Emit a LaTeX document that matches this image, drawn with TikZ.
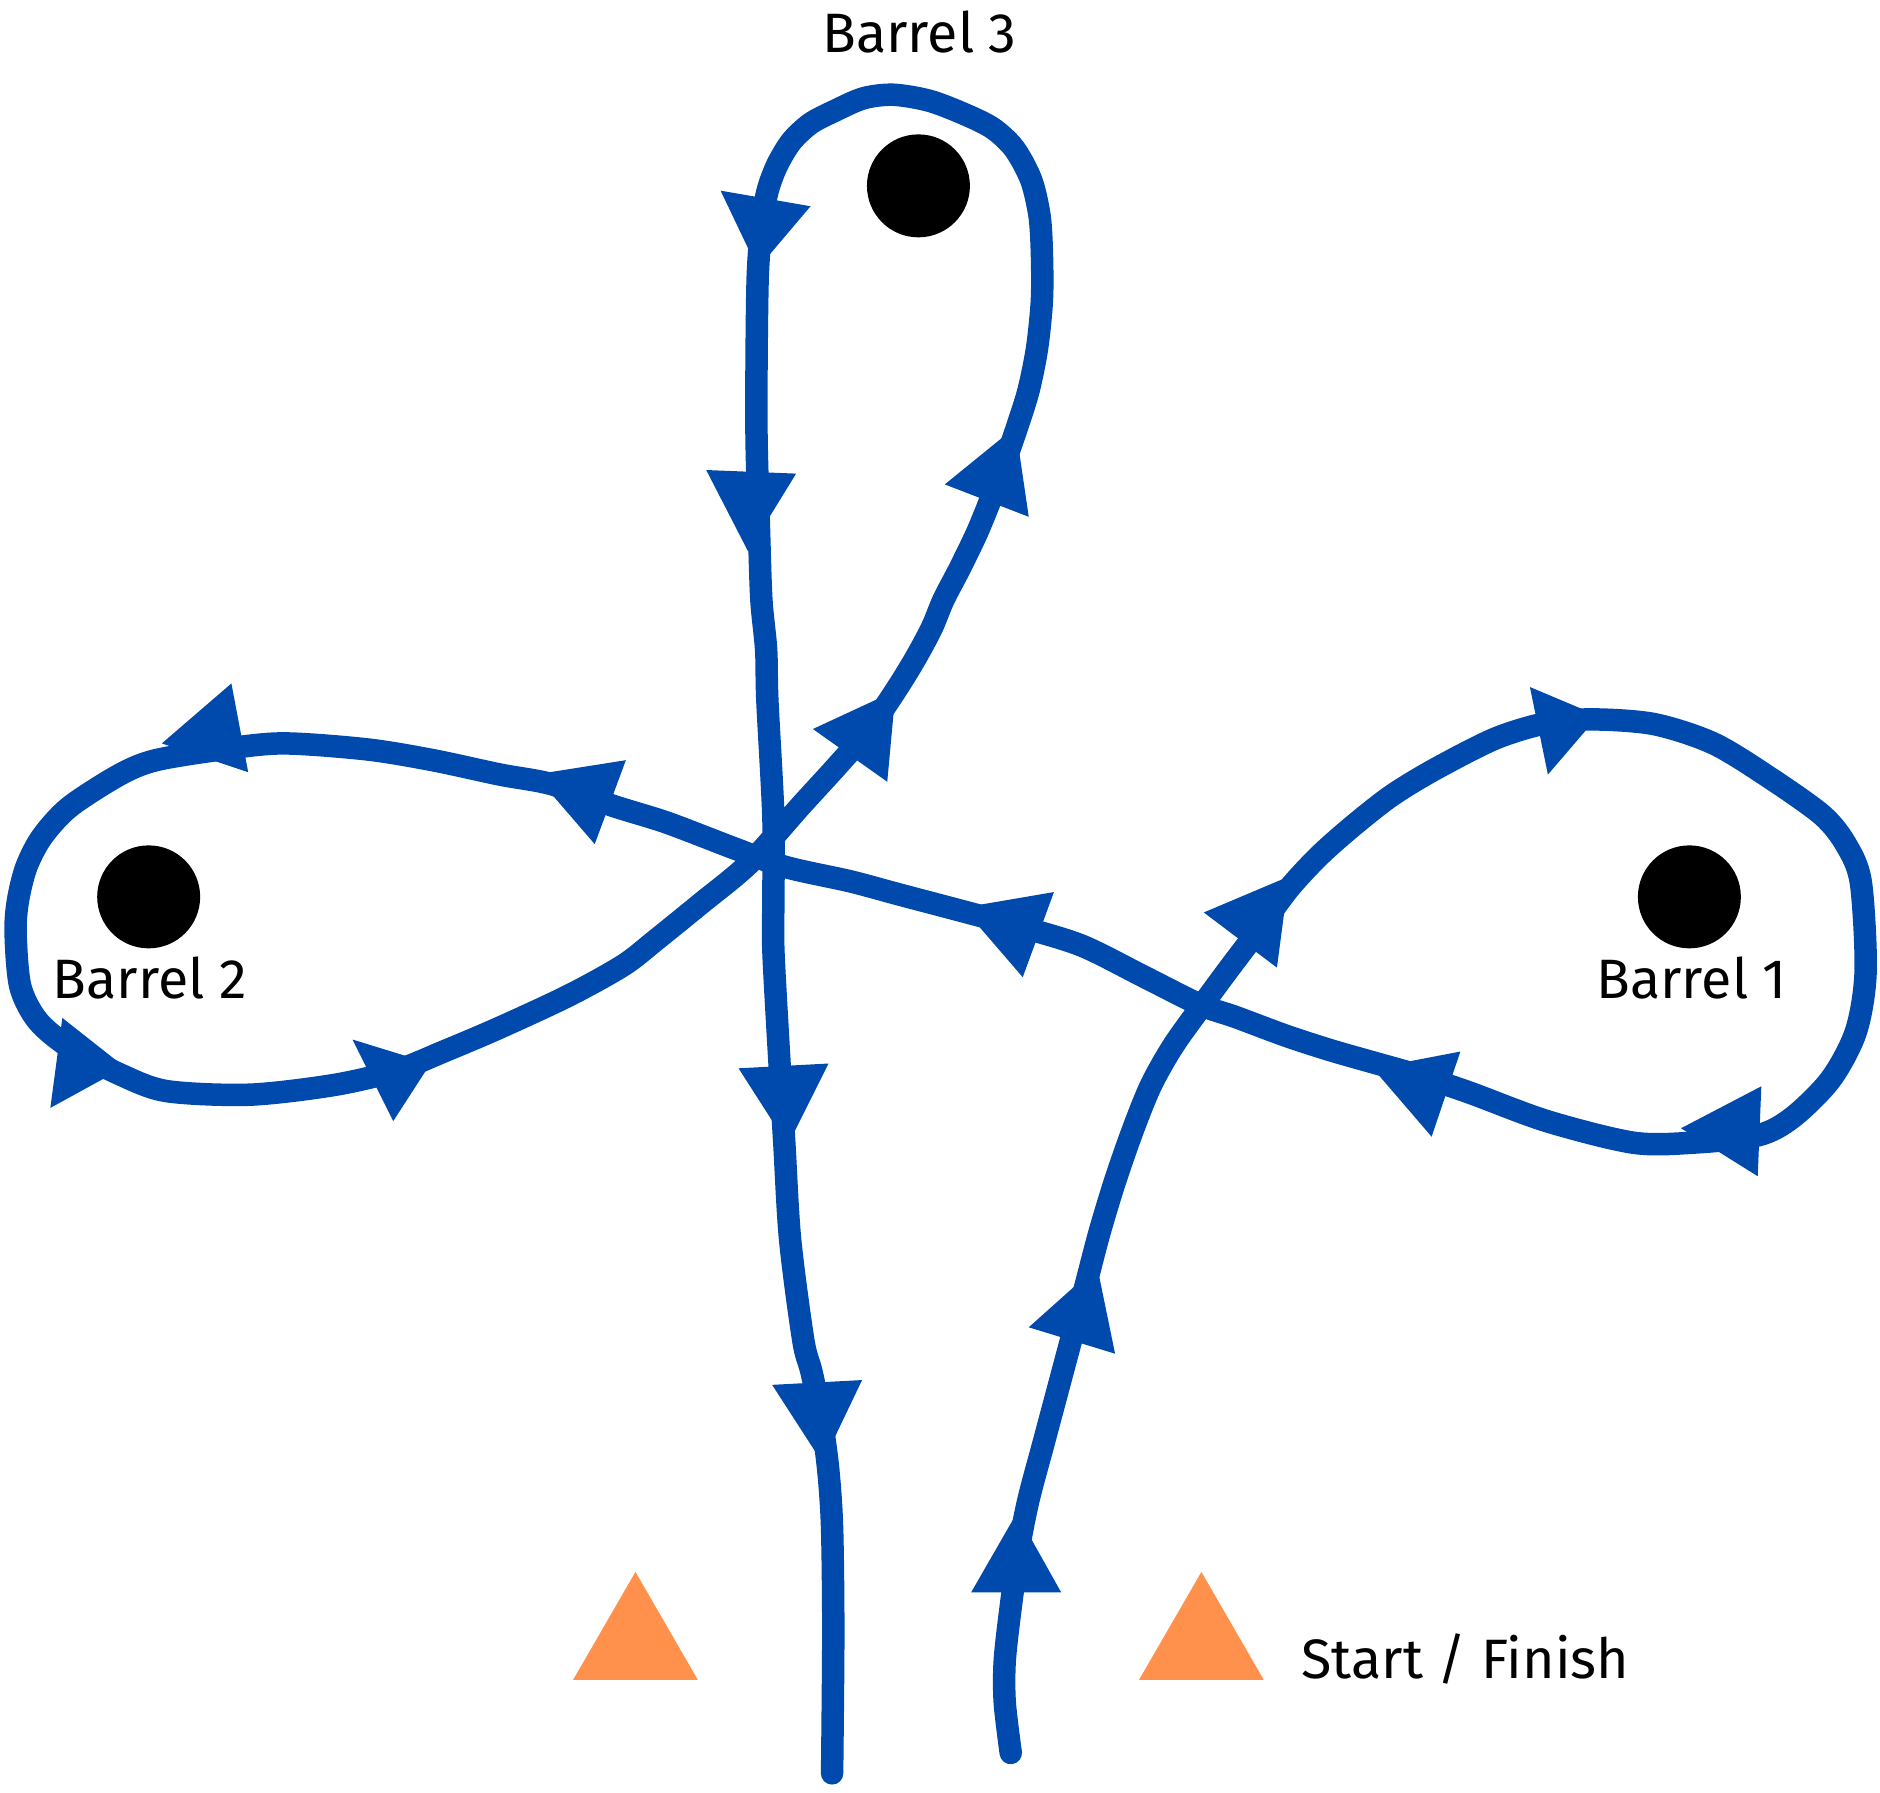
\documentclass[tikz,border=0pt]{standalone}
\usepackage{fontspec}
\setmainfont{Fira Sans}
\definecolor{route}{HTML}{004AAD}
\definecolor{cone}{HTML}{FF914D}
\tikzset{
  track/.style={draw=route, line width=0.225cm, line cap=round, line join=round},
  tip/.style={fill=route},
  barrel/.style={circle, fill=black, minimum size=1.03cm, inner sep=0pt},
  lbl/.style={font=\fontsize{15.8}{19}\selectfont, anchor=base, inner sep=0pt},
  conestyle/.style={fill=cone}
}
\begin{document}
\begin{tikzpicture}[x=0.012cm, y=-0.012cm]
\useasboundingbox (0,0) rectangle (1568,1495);
% route
\draw[track] plot[smooth, tension=0.5] coordinates {
(843,1462) (838,1420) (838,1385) (843,1340) (850,1290) (858,1250) (870,1205) (882,1160) (894,1115) (906,1070) (917,1028) (930,985) (945,942) (960,905) (978,873) (1000,842) (1025,808) (1050,775) (1075,741) (1100,714) (1127,690) (1160,664) (1196,642) (1247,616) (1290,603) (1330,600) (1380,604) (1429,620) (1475,648) (1520,680) (1540,705) (1552,736) (1556,810) (1548,860) (1527,900) (1495,932) (1466,947) (1412,953) (1362,953) (1290,935) (1225,911) (1180,896) (1145,886) (1110,876) (1073,864) (1030,848) (1001,838) (955,815) (903,789) (855,774) (803,760) (750,746) (709,735) (655,723) (611,707) (556,686) (511,672) (460,654) (417,646) (361,634) (306,625) (236,620) (185,625) (130,634) (100,646) (58,673) (35,698) (22,723) (15,751) (13,778) (17,823) (32,852) (60,875) (100,896) (139,910) (208,913) (278,905) (330,893) (370,877) (417,857) (475,830) (520,805) (547,784) (584,754) (625,720) (667,673) (698,639) (725,608) (747,576) (763,550) (777,524) (787,500) (800,475) (815,444) (828,412) (840,380) (849,354) (858,325) (865,290) (869,250) (869,212) (867,180) (860,150) (846,124) (828,107) (804,95) (775,84) (745,79) (720,82) (695,93) (676,103) (660,118) (648,138) (640,160) (635,190) (632,230) (631,300) (631,367) (633,440) (635,500) (639,542) (640,584) (645,681) (645,750) (645,792) (649,867) (654,951) (659,1034) (670,1118) (677,1145) (686,1190) (691,1228) (694,1275) (695,1362) (694,1479)};
% arrowheads
\fill[tip] (810,1328) -- (885,1328) -- (848,1262) -- cycle;
\fill[tip] (858,1107) -- (930,1129) -- (915,1056) -- cycle;
\fill[tip] (1004,761) -- (1075,731) -- (1065,807) -- cycle;
\fill[tip] (1276,573) -- (1333,597) -- (1291,646) -- cycle;
\fill[tip] (1469,906) -- (1466,981) -- (1402,941) -- cycle;
\fill[tip] (1145,891) -- (1218,877) -- (1194,948) -- cycle;
\fill[tip] (803,757) -- (879,744) -- (853,815) -- cycle;
\fill[tip] (446,646) -- (522,634) -- (496,704) -- cycle;
\fill[tip] (135,620) -- (193,570) -- (207,644) -- cycle;
\fill[tip] (52,849) -- (42,924) -- (104,890) -- cycle;
\fill[tip] (294,867) -- (328,935) -- (359,887) -- cycle;
\fill[tip] (678,608) -- (740,652) -- (747,576) -- cycle;
\fill[tip] (788,404) -- (858,431) -- (847,356) -- cycle;
\fill[tip] (601,159) -- (676,172) -- (632,224) -- cycle;
\fill[tip] (589,392) -- (664,395) -- (624,460) -- cycle;
\fill[tip] (616,891) -- (691,887) -- (657,955) -- cycle;
\fill[tip] (644,1155) -- (719,1151) -- (686,1220) -- cycle;
% barrels
\node[barrel] (b3) at (766,155) {};
\node[barrel] (b2) at (124,748) {};
\node[barrel] (b1) at (1409,748) {};
\node[lbl] (l3) at (767,44) {Barrel 3};
\node[lbl] (l2) at (125,833) {Barrel 2};
\node[lbl] (l1) at (1411,833) {Barrel 1};
% cones
\fill[conestyle] (530,1311) -- (582,1401) -- (478,1401) -- cycle;
\fill[conestyle] (1002,1311) -- (1054,1401) -- (950,1401) -- cycle;
\node[lbl, anchor=base west] (sf) at (1085,1400) {Start / Finish};
\end{tikzpicture}
\end{document}
